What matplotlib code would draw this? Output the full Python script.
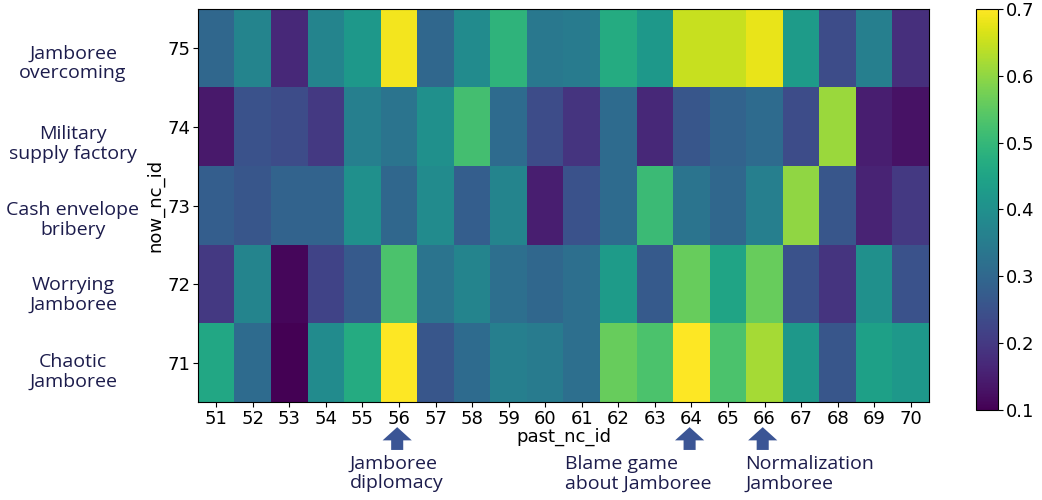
import numpy as np
import matplotlib
matplotlib.use('Agg')
import matplotlib.pyplot as plt

# row ids (top to bottom) and column ids
now_ids = [75, 74, 73, 72, 71]
past_ids = list(range(51, 71))

# similarity values, one list per row
row_75 = [0.30, 0.37, 0.17, 0.37, 0.42, 0.69, 0.30, 0.39, 0.49, 0.34,
          0.35, 0.47, 0.42, 0.65, 0.65, 0.68, 0.43, 0.24, 0.36, 0.18]
row_74 = [0.14, 0.25, 0.24, 0.20, 0.36, 0.33, 0.40, 0.52, 0.31, 0.24,
          0.19, 0.31, 0.17, 0.26, 0.29, 0.31, 0.24, 0.61, 0.15, 0.13]
row_73 = [0.28, 0.26, 0.29, 0.29, 0.40, 0.30, 0.39, 0.28, 0.37, 0.15,
          0.25, 0.31, 0.51, 0.33, 0.30, 0.36, 0.60, 0.26, 0.16, 0.20]
row_72 = [0.20, 0.37, 0.11, 0.22, 0.27, 0.53, 0.33, 0.37, 0.32, 0.30,
          0.32, 0.43, 0.27, 0.56, 0.45, 0.56, 0.25, 0.19, 0.40, 0.25]
row_71 = [0.46, 0.31, 0.10, 0.39, 0.47, 0.70, 0.26, 0.31, 0.36, 0.35,
          0.32, 0.56, 0.53, 0.70, 0.53, 0.62, 0.42, 0.26, 0.44, 0.42]

row_names = ['Jamboree\novercoming', 'Military\nsupply factory', 'Cash envelope\nbribery',
             'Worrying\nJamboree', 'Chaotic\nJamboree']
row_name_y = [63, 144, 220, 295, 372]  # centre of each name, pixels from top

# arrows under some columns, with their captions
marked_cols = [56, 64, 66]
marked_names = ['Jamboree\ndiplomacy', 'Blame game\nabout Jamboree', 'Normalization\nJamboree']
caption_x = [350, 565, 745]  # left edge of caption, pixels

data = np.array([row_75, row_74, row_73, row_72, row_71])

W, H = 1042, 500
fig = plt.figure(figsize=(W / 100, H / 100), dpi=100)
ax = fig.add_axes([198 / W, 1 - 402 / H, 731 / W, 393 / H])
cax = fig.add_axes([976 / W, 1 - 410 / H, 22 / W, 401 / H])

im = ax.imshow(data, cmap='viridis', vmin=0.1, vmax=0.7, aspect='auto')
ax.set_xticks(range(len(past_ids)))
ax.set_xticklabels(past_ids)
ax.set_yticks(range(len(now_ids)))
ax.set_yticklabels(now_ids)
ax.tick_params(labelsize=13, pad=2)
ax.set_xlabel('past_nc_id', fontsize=13, labelpad=0)
ax.set_ylabel('now_nc_id', fontsize=13, labelpad=2)

cb = fig.colorbar(im, cax=cax)
cb.set_ticks([0.1, 0.2, 0.3, 0.4, 0.5, 0.6, 0.7])
cb.ax.tick_params(labelsize=13, pad=2)
cb.outline.set_linewidth(0.8)

text_color = '#1c1c4c'
arrow_color = '#3b5595'
font = ['Open Sans', 'DejaVu Sans']

# names of the rows on the left
for name, py in zip(row_names, row_name_y):
    fig.text(73 / W, 1 - py / H, name, ha='center', va='center', fontsize=14,
             color=text_color, family=font, linespacing=1.1)

# arrows and captions below the x axis
for col, name, px in zip(marked_cols, marked_names, caption_x):
    xi = past_ids.index(col)
    ax.annotate('', xy=(xi - 0.05, -0.064), xycoords=('data', 'axes fraction'),
                xytext=(xi - 0.05, -0.122), textcoords=('data', 'axes fraction'),
                arrowprops=dict(arrowstyle='simple,head_length=0.34,head_width=0.75,tail_width=0.31',
                                mutation_scale=28, shrinkA=0, shrinkB=0,
                                color=arrow_color, lw=0))
    fig.text(px / W, 1 - 455 / H, name, ha='left', va='top', fontsize=14,
             color=text_color, family=font, linespacing=1.1)

fig.savefig('out.png', dpi=100)
